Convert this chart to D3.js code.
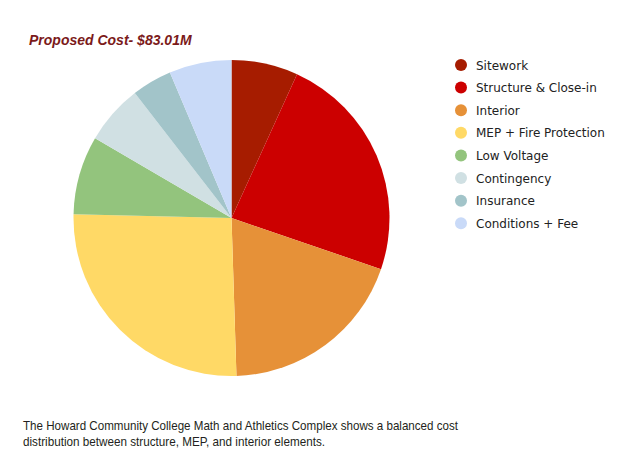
<!DOCTYPE html>
<html>
<head>
<meta charset="utf-8">
<script src="https://cdn.jsdelivr.net/npm/d3@7"></script>
<style>
  body { margin: 0; background: #fff; }
</style>
</head>
<body>
<svg id="chart" width="632" height="463"></svg>
<script>
var categories = ["Sitework", "Structure & Close-in", "Interior", "MEP + Fire Protection",
                  "Low Voltage", "Contingency", "Insurance", "Conditions + Fee"];
var costs = [5.65, 19.46, 15.98, 21.49, 6.66, 5.07, 3.41, 5.29];
var colors = ["#a61c00", "#cc0000", "#e69138", "#ffd966",
              "#93c47d", "#d0e0e3", "#a2c4c9", "#c9daf8"];
var title = "Proposed Cost- $83.01M";
var caption = ["The Howard Community College Math and Athletics Complex shows a balanced cost",
               "distribution between structure, MEP, and interior elements."];

var svg = d3.select("svg#chart");
var cx = 231.5, cy = 218, radius = 158;

var data = categories.map(function(c, i){
    return {Name: c, Cost: costs[i]};
});

var colorScale = d3.scaleOrdinal()
                   .domain(categories)
                   .range(colors);

//#region Pie
var pie = d3.pie()
            .sort(null)
            .value(function(d){ return d.Cost; });

var arc = d3.arc()
            .innerRadius(0)
            .outerRadius(radius);

svg.append("g")
    .attr("transform", "translate(" + cx + "," + cy + ")")
    .selectAll("path")
    .data(pie(data))
    .join("path")
    .attr("d", arc)
    .attr("fill", function(d){ return colorScale(d.data.Name); });
//#endregion

//#region Title
svg.append("text")
    .attr("x", 29)
    .attr("y", 45)
    .attr("font-family", "Liberation Sans, Arial, sans-serif")
    .attr("font-size", 14)
    .attr("font-weight", "bold")
    .attr("font-style", "italic")
    .attr("fill", "#7b1a1a")
    .text(title);
//#endregion

//#region Legend
var legendY = d3.scalePoint()
                .domain(categories)
                .range([65, 223.3]);

var legend = svg.append("g").selectAll("g")
    .data(categories)
    .join("g")
    .attr("transform", function(d){ return "translate(461," + legendY(d) + ")"; });

legend.append("circle")
    .attr("r", 6)
    .attr("fill", function(d){ return colorScale(d); });

legend.append("text")
    .attr("x", 15)
    .attr("y", 4.5)
    .attr("font-family", "DejaVu Sans, Verdana, sans-serif")
    .attr("font-size", 12)
    .attr("fill", "#222")
    .text(function(d){ return d; });
//#endregion

//#region Caption
svg.selectAll("text.caption")
    .data(caption)
    .join("text")
    .attr("class", "caption")
    .attr("x", 23)
    .attr("y", function(d, i){ return 429.5 + i * 16; })
    .attr("font-family", "Liberation Sans, Arial, sans-serif")
    .attr("font-size", 13.5)
    .attr("fill", "#231f20")
    .attr("textLength", function(d, i){ return i == 0 ? 435 : 302; })
    .attr("lengthAdjust", "spacingAndGlyphs")
    .text(function(d){ return d; });
//#endregion
</script>
</body>
</html>
